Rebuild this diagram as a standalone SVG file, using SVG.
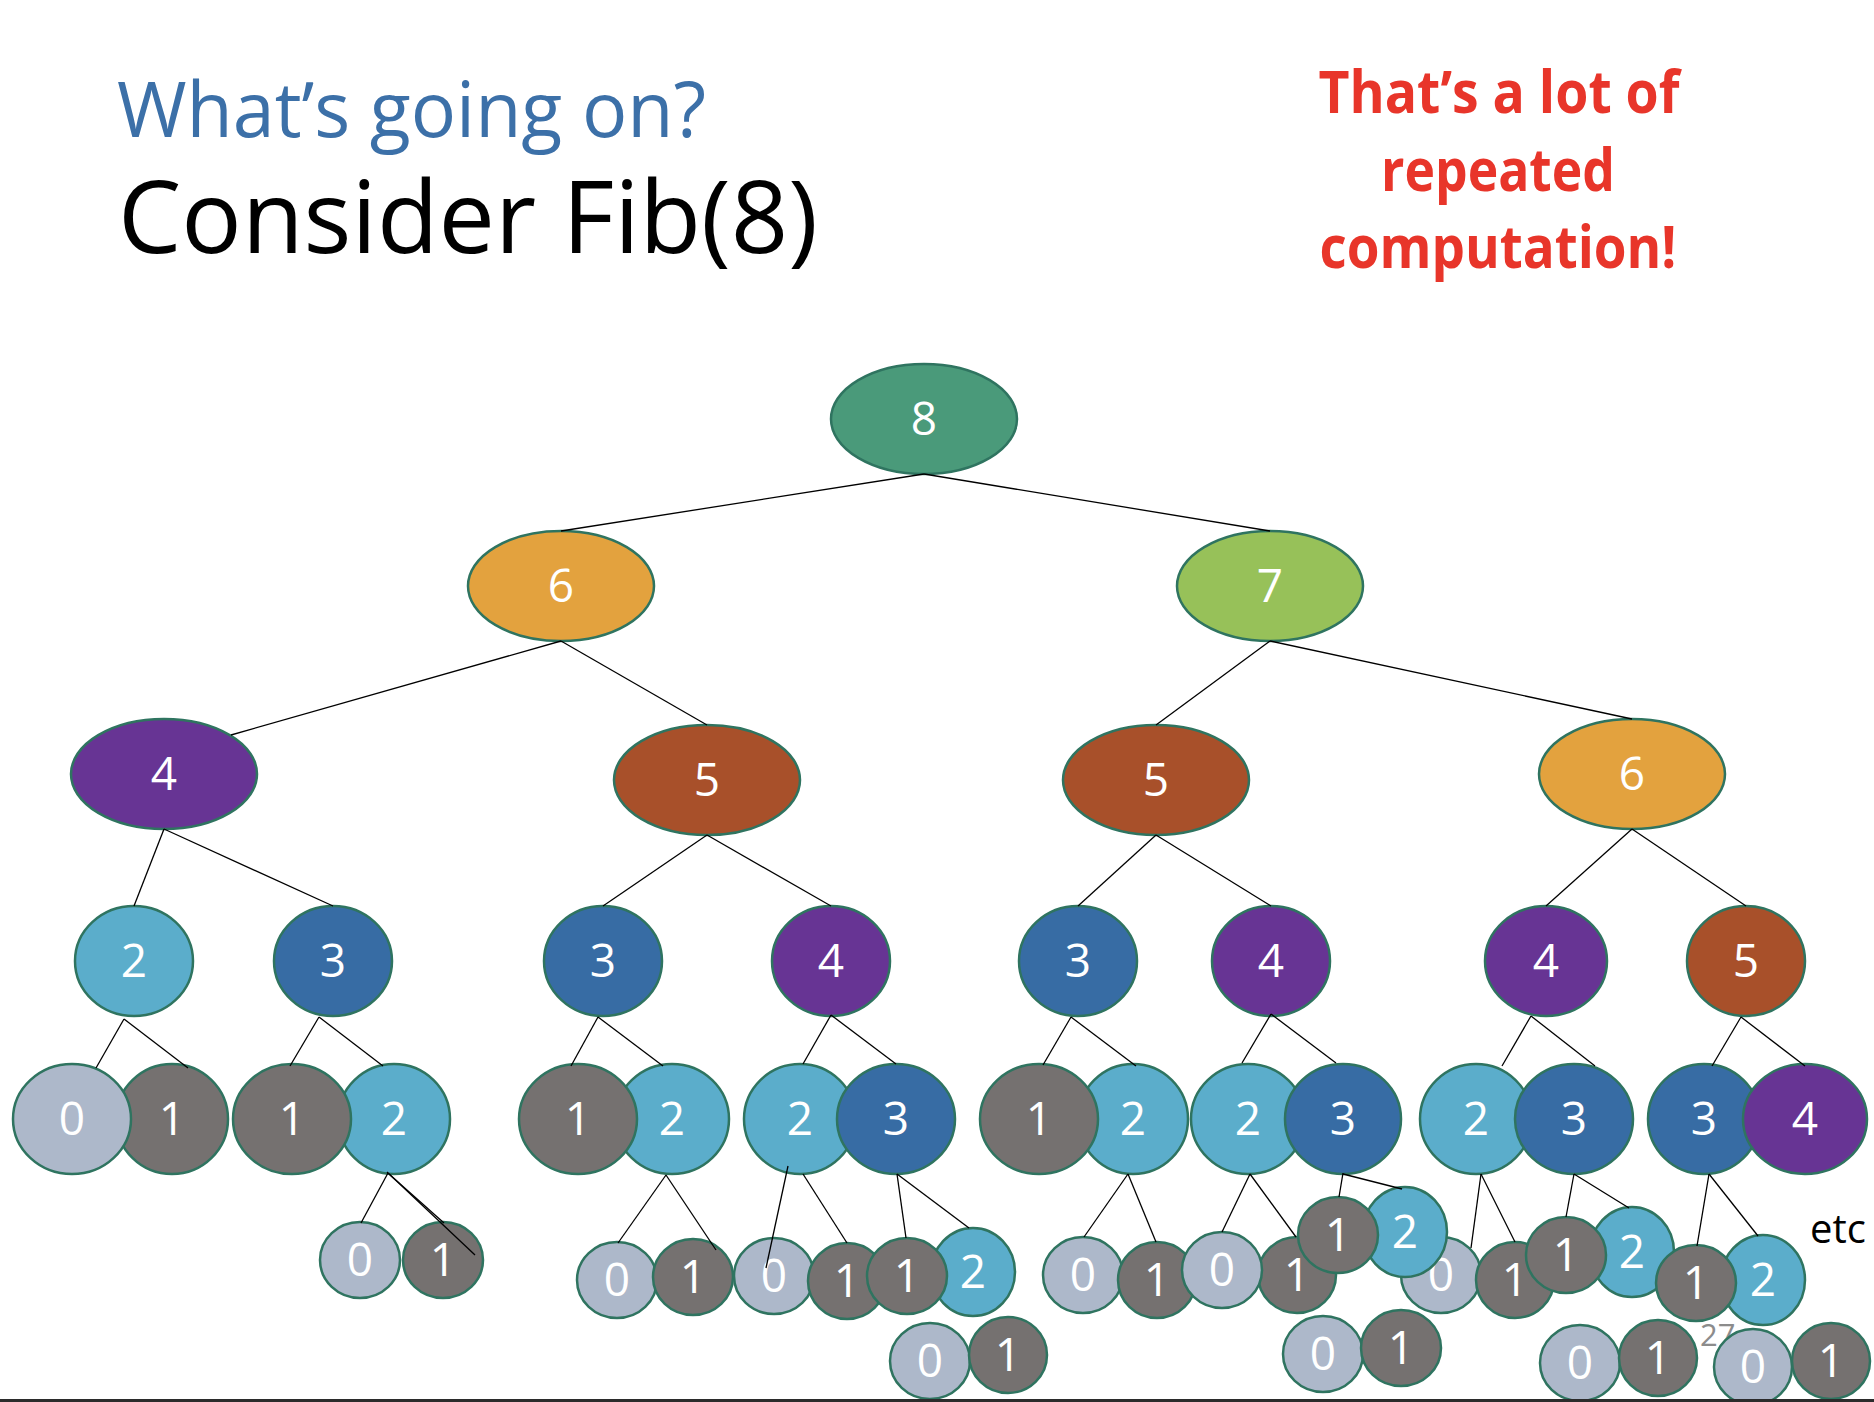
<svg xmlns="http://www.w3.org/2000/svg" width="1874" height="1402" viewBox="0 0 1874 1402">
  <style>
    .n ellipse { stroke: #2F7460; stroke-width: 2.5; }
    .n text { fill: #ffffff; font-family: "Open Sans", "Noto Sans", sans-serif; font-size: 46px; text-anchor: middle; }
    .v0 ellipse { fill: #ADB8CA; }
    .v1 ellipse { fill: #757170; }
    .v2 ellipse { fill: #5BADCB; }
    .v3 ellipse { fill: #376CA4; }
    .v4 ellipse { fill: #673494; }
    .v5 ellipse { fill: #A8502A; }
    .v6 ellipse { fill: #E3A23E; }
    .v7 ellipse { fill: #97C159; }
    .v8 ellipse { fill: #4A9A7A; }
    #edges line { stroke: #000000; stroke-width: 1.3; }
    .title { font-family: "Open Sans", "Noto Sans", sans-serif; }
    .note { font-family: "Open Sans", "Noto Sans", sans-serif; font-weight: bold; fill: #E8352A; font-size: 59px; text-anchor: middle; }
  </style>

  <rect width="1874" height="1402" fill="#ffffff"/>

  <!-- headings -->
  <text class="title" x="117" y="137" font-size="76" fill="#3C70A8" textLength="589" lengthAdjust="spacingAndGlyphs">What’s going on?</text>
  <text class="title" x="118" y="253" font-size="100" fill="#000000" textLength="700" lengthAdjust="spacingAndGlyphs">Consider Fib(8)</text>

  <g id="remark">
    <text class="note" x="1499" y="113" textLength="361" lengthAdjust="spacingAndGlyphs">That’s a lot of</text>
    <text class="note" x="1498" y="191" textLength="234" lengthAdjust="spacingAndGlyphs">repeated</text>
    <text class="note" x="1498" y="268" textLength="357" lengthAdjust="spacingAndGlyphs">computation!</text>
  </g>

  <!-- call tree nodes -->
  <g id="nodes">
    <!-- level 0 -->
    <g id="n-8" class="n v8"><ellipse cx="924" cy="419" rx="93" ry="55"/><text x="924" y="435">8</text></g>
    <!-- level 1 -->
    <g id="n-6a" class="n v6"><ellipse cx="561" cy="586" rx="93" ry="55"/><text x="561" y="602">6</text></g>
    <g id="n-7" class="n v7"><ellipse cx="1270" cy="586" rx="93" ry="55"/><text x="1270" y="602">7</text></g>
    <!-- level 2 -->
    <g id="n-4a" class="n v4"><ellipse cx="164" cy="774" rx="93" ry="55"/><text x="164" y="790">4</text></g>
    <g id="n-5a" class="n v5"><ellipse cx="707" cy="780" rx="93" ry="55"/><text x="707" y="796">5</text></g>
    <g id="n-5b" class="n v5"><ellipse cx="1156" cy="780" rx="93" ry="55"/><text x="1156" y="796">5</text></g>
    <g id="n-6b" class="n v6"><ellipse cx="1632" cy="774" rx="93" ry="55"/><text x="1632" y="790">6</text></g>
    <!-- level 3 -->
    <g id="n-2a" class="n v2"><ellipse cx="134" cy="961" rx="59" ry="55"/><text x="134" y="977">2</text></g>
    <g id="n-3a" class="n v3"><ellipse cx="333" cy="961" rx="59" ry="55"/><text x="333" y="977">3</text></g>
    <g id="n-3b" class="n v3"><ellipse cx="603" cy="961" rx="59" ry="55"/><text x="603" y="977">3</text></g>
    <g id="n-4b" class="n v4"><ellipse cx="831" cy="961" rx="59" ry="55"/><text x="831" y="977">4</text></g>
    <g id="n-3c" class="n v3"><ellipse cx="1078" cy="961" rx="59" ry="55"/><text x="1078" y="977">3</text></g>
    <g id="n-4c" class="n v4"><ellipse cx="1271" cy="961" rx="59" ry="55"/><text x="1271" y="977">4</text></g>
    <g id="n-4d" class="n v4"><ellipse cx="1546" cy="961" rx="61" ry="55"/><text x="1546" y="977">4</text></g>
    <g id="n-5c" class="n v5"><ellipse cx="1746" cy="961" rx="59" ry="55"/><text x="1746" y="977">5</text></g>
    <!-- level 4 -->
    <g id="n-1a" class="n v1"><ellipse cx="172" cy="1119" rx="56" ry="55"/><text x="172" y="1135">1</text></g>
    <g id="n-0a" class="n v0"><ellipse cx="72" cy="1119" rx="59" ry="55"/><text x="72" y="1135">0</text></g>
    <g id="n-2b" class="n v2"><ellipse cx="394" cy="1119" rx="56" ry="55"/><text x="394" y="1135">2</text></g>
    <g id="n-1b" class="n v1"><ellipse cx="292" cy="1119" rx="59" ry="55"/><text x="292" y="1135">1</text></g>
    <g id="n-2c" class="n v2"><ellipse cx="672" cy="1119" rx="57" ry="55"/><text x="672" y="1135">2</text></g>
    <g id="n-1c" class="n v1"><ellipse cx="578" cy="1119" rx="59" ry="55"/><text x="578" y="1135">1</text></g>
    <g id="n-2d" class="n v2"><ellipse cx="800" cy="1119" rx="56" ry="55"/><text x="800" y="1135">2</text></g>
    <g id="n-3d" class="n v3"><ellipse cx="896" cy="1119" rx="59" ry="55"/><text x="896" y="1135">3</text></g>
    <g id="n-2e" class="n v2"><ellipse cx="1133" cy="1119" rx="55" ry="55"/><text x="1133" y="1135">2</text></g>
    <g id="n-1d" class="n v1"><ellipse cx="1039" cy="1119" rx="59" ry="55"/><text x="1039" y="1135">1</text></g>
    <g id="n-2f" class="n v2"><ellipse cx="1248" cy="1119" rx="57" ry="55"/><text x="1248" y="1135">2</text></g>
    <g id="n-3e" class="n v3"><ellipse cx="1343" cy="1119" rx="58" ry="55"/><text x="1343" y="1135">3</text></g>
    <g id="n-2g" class="n v2"><ellipse cx="1476" cy="1119" rx="56" ry="55"/><text x="1476" y="1135">2</text></g>
    <g id="n-3f" class="n v3"><ellipse cx="1574" cy="1119" rx="59" ry="55"/><text x="1574" y="1135">3</text></g>
    <g id="n-3g" class="n v3"><ellipse cx="1704" cy="1119" rx="56" ry="55"/><text x="1704" y="1135">3</text></g>
    <g id="n-4e" class="n v4"><ellipse cx="1805" cy="1119" rx="62" ry="55"/><text x="1805" y="1135">4</text></g>
    <!-- level 5 and below -->
    <g id="n-0b" class="n v0"><ellipse cx="360" cy="1260" rx="40" ry="38"/><text x="360" y="1276">0</text></g>
    <g id="n-1e" class="n v1"><ellipse cx="443" cy="1260" rx="40" ry="38"/><text x="443" y="1276">1</text></g>
    <g id="n-0c" class="n v0"><ellipse cx="617" cy="1280" rx="40" ry="38"/><text x="617" y="1296">0</text></g>
    <g id="n-1f" class="n v1"><ellipse cx="693" cy="1277" rx="40" ry="38"/><text x="693" y="1293">1</text></g>
    <g id="n-0d" class="n v0"><ellipse cx="774" cy="1276" rx="40" ry="38"/><text x="774" y="1292">0</text></g>
    <g id="n-1g" class="n v1"><ellipse cx="847" cy="1281" rx="39" ry="38"/><text x="847" y="1297">1</text></g>
    <g id="n-2h" class="n v2"><ellipse cx="973" cy="1272" rx="42" ry="44"/><text x="973" y="1288">2</text></g>
    <g id="n-1h" class="n v1"><ellipse cx="907" cy="1276" rx="40" ry="38"/><text x="907" y="1292">1</text></g>
    <g id="n-0e" class="n v0"><ellipse cx="930" cy="1361" rx="40" ry="38"/><text x="930" y="1377">0</text></g>
    <g id="n-1i" class="n v1"><ellipse cx="1008" cy="1355" rx="39" ry="38"/><text x="1008" y="1371">1</text></g>
    <g id="n-0f" class="n v0"><ellipse cx="1083" cy="1275" rx="40" ry="38"/><text x="1083" y="1291">0</text></g>
    <g id="n-1j" class="n v1"><ellipse cx="1157" cy="1280" rx="39" ry="38"/><text x="1157" y="1296">1</text></g>
    <g id="n-1k" class="n v1"><ellipse cx="1297" cy="1275" rx="39" ry="38"/><text x="1297" y="1291">1</text></g>
    <g id="n-0g" class="n v0"><ellipse cx="1222" cy="1270" rx="40" ry="38"/><text x="1222" y="1286">0</text></g>
    <g id="n-0h" class="n v0"><ellipse cx="1441" cy="1275" rx="40" ry="38"/><text x="1441" y="1291">0</text></g>
    <g id="n-1l" class="n v1"><ellipse cx="1515" cy="1280" rx="39" ry="38"/><text x="1515" y="1296">1</text></g>
    <g id="n-2i" class="n v2"><ellipse cx="1405" cy="1232" rx="42" ry="45"/><text x="1405" y="1248">2</text></g>
    <g id="n-1m" class="n v1"><ellipse cx="1338" cy="1235" rx="40" ry="38"/><text x="1338" y="1251">1</text></g>
    <g id="n-0i" class="n v0"><ellipse cx="1323" cy="1354" rx="40" ry="38"/><text x="1323" y="1370">0</text></g>
    <g id="n-1n" class="n v1"><ellipse cx="1401" cy="1348" rx="40" ry="38"/><text x="1401" y="1364">1</text></g>
    <g id="n-2j" class="n v2"><ellipse cx="1632" cy="1252" rx="42" ry="45"/><text x="1632" y="1268">2</text></g>
    <g id="n-1o" class="n v1"><ellipse cx="1566" cy="1255" rx="40" ry="38"/><text x="1566" y="1271">1</text></g>
    <g id="n-2k" class="n v2"><ellipse cx="1763" cy="1280" rx="42" ry="45"/><text x="1763" y="1296">2</text></g>
    <g id="n-1p" class="n v1"><ellipse cx="1696" cy="1283" rx="40" ry="38"/><text x="1696" y="1299">1</text></g>
    <g id="n-0j" class="n v0"><ellipse cx="1580" cy="1363" rx="40" ry="38"/><text x="1580" y="1379">0</text></g>
    <g id="n-1q" class="n v1"><ellipse cx="1658" cy="1358" rx="39" ry="38"/><text x="1658" y="1374">1</text></g>
    <!-- slide number sits under the last pair -->
    <text x="1700" y="1346" font-family="Open Sans, Noto Sans, sans-serif" font-size="31" fill="#8C8C8C">27</text>
    <g id="n-0k" class="n v0"><ellipse cx="1753" cy="1367" rx="39" ry="38"/><text x="1753" y="1383">0</text></g>
    <g id="n-1r" class="n v1"><ellipse cx="1831" cy="1361" rx="39" ry="38"/><text x="1831" y="1377">1</text></g>
  </g>

  <!-- parent/child links -->
  <g id="edges">
    <line x1="924" y1="474" x2="561" y2="531"/>
    <line x1="924" y1="474" x2="1270" y2="531"/>

    <line x1="561" y1="641" x2="231" y2="735"/>
    <line x1="561" y1="641" x2="707" y2="725"/>
    <line x1="1270" y1="641" x2="1156" y2="725"/>
    <line x1="1270" y1="641" x2="1632" y2="719"/>

    <line x1="164" y1="829" x2="134" y2="906"/>
    <line x1="164" y1="829" x2="333" y2="906"/>
    <line x1="707" y1="835" x2="603" y2="906"/>
    <line x1="707" y1="835" x2="831" y2="906"/>
    <line x1="1156" y1="835" x2="1078" y2="906"/>
    <line x1="1156" y1="835" x2="1271" y2="906"/>
    <line x1="1632" y1="829" x2="1546" y2="906"/>
    <line x1="1632" y1="829" x2="1746" y2="906"/>

    <line x1="124" y1="1019" x2="96" y2="1068"/>
    <line x1="124" y1="1019" x2="188" y2="1068"/>
    <line x1="319" y1="1017" x2="290" y2="1066"/>
    <line x1="319" y1="1017" x2="383" y2="1066"/>
    <line x1="598" y1="1017" x2="571" y2="1066"/>
    <line x1="598" y1="1017" x2="663" y2="1066"/>
    <line x1="831" y1="1015" x2="803" y2="1064"/>
    <line x1="831" y1="1015" x2="896" y2="1064"/>
    <line x1="1071" y1="1017" x2="1043" y2="1065"/>
    <line x1="1071" y1="1017" x2="1136" y2="1066"/>
    <line x1="1271" y1="1014" x2="1242" y2="1063"/>
    <line x1="1271" y1="1014" x2="1336" y2="1063"/>
    <line x1="1531" y1="1016" x2="1502" y2="1066"/>
    <line x1="1531" y1="1016" x2="1595" y2="1066"/>
    <line x1="1741" y1="1017" x2="1712" y2="1066"/>
    <line x1="1741" y1="1017" x2="1805" y2="1066"/>

    <line x1="388" y1="1173" x2="361" y2="1223"/>
    <line x1="387" y1="1172" x2="475" y2="1255"/>
    <line x1="389" y1="1174" x2="444" y2="1223"/>
    <line x1="666" y1="1175" x2="618" y2="1243"/>
    <line x1="666" y1="1175" x2="716" y2="1250"/>
    <line x1="788" y1="1166" x2="766" y2="1268"/>
    <line x1="803" y1="1174" x2="847" y2="1243"/>
    <line x1="897" y1="1174" x2="906" y2="1238"/>
    <line x1="897" y1="1174" x2="969" y2="1228"/>
    <line x1="1128" y1="1174" x2="1084" y2="1237"/>
    <line x1="1128" y1="1174" x2="1156" y2="1242"/>
    <line x1="1250" y1="1174" x2="1222" y2="1232"/>
    <line x1="1250" y1="1174" x2="1296" y2="1237"/>
    <line x1="1343" y1="1173" x2="1339" y2="1197"/>
    <line x1="1343" y1="1174" x2="1402" y2="1189"/>
    <line x1="1481" y1="1174" x2="1471" y2="1248"/>
    <line x1="1481" y1="1174" x2="1515" y2="1242"/>
    <line x1="1574" y1="1174" x2="1566" y2="1217"/>
    <line x1="1574" y1="1174" x2="1629" y2="1208"/>
    <line x1="1709" y1="1174" x2="1697" y2="1246"/>
    <line x1="1709" y1="1174" x2="1758" y2="1236"/>
  </g>

  <text x="1810" y="1243" font-family="Open Sans, Noto Sans, sans-serif" font-size="40" fill="#000000">etc</text>

  <rect x="0" y="1399" width="1874" height="3" fill="#2B2B2B"/>
</svg>
